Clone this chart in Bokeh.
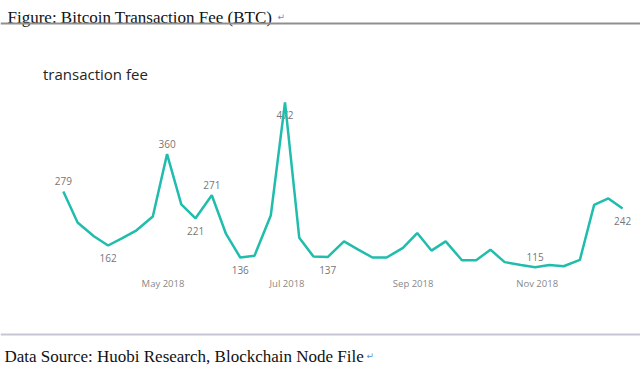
import pandas as pd
from bokeh.plotting import figure
from bokeh.models import (ColumnDataSource, Range1d, FixedTicker, DatetimeTickFormatter,
                          LabelSet, Label, Span)
from bokeh.core.properties import value
from bokeh.embed import file_html
from bokeh.resources import INLINE

# ---- data ----
dates = ["2018-03-13", "2018-03-20", "2018-03-28", "2018-04-04", "2018-04-11", "2018-04-18",
         "2018-04-26", "2018-05-03", "2018-05-10", "2018-05-17", "2018-05-25", "2018-06-01",
         "2018-06-08", "2018-06-15", "2018-06-23", "2018-06-30", "2018-07-07", "2018-07-14",
         "2018-07-21", "2018-07-29", "2018-08-05", "2018-08-12", "2018-08-19", "2018-08-27",
         "2018-09-03", "2018-09-10", "2018-09-17", "2018-09-25", "2018-10-02", "2018-10-09",
         "2018-10-16", "2018-10-24", "2018-10-31", "2018-11-07", "2018-11-14", "2018-11-22",
         "2018-11-29", "2018-12-06", "2018-12-13"]
fees = [279, 212, 182, 162, 178, 195, 225, 360, 251, 221, 271, 187, 136, 140, 227, 472,
        179, 138, 137, 171, 153, 136, 136, 157, 189, 151, 171, 130, 130, 153, 126, 120,
        115, 120, 117, 131, 250, 264, 242]
labeled_points = [0, 3, 7, 9, 10, 12, 15, 18, 32, 38]
label_sides = ["above", "below", "above", "below", "above", "below", "below", "below",
               "above", "below"]
tick_months = ["2018-05-01", "2018-07-01", "2018-09-01", "2018-11-01"]

chart_title = "Figure: Bitcoin Transaction Fee (BTC)"
series_title = "transaction fee"
source_note = "Data Source: Huobi Research, Blockchain Node File"

# ---- layout ----
W, H = 640, 365
x_dates = pd.to_datetime(dates)
src = ColumnDataSource(dict(date=x_dates, fee=fees))

lab_src = ColumnDataSource(dict(
    date=[x_dates[i] for i in labeled_points],
    fee=[fees[i] for i in labeled_points],
    txt=[str(fees[i]) for i in labeled_points],
    off=[10.5 if s == "above" else -12.5 for s in label_sides],
))

anchor = pd.Timestamp("2018-05-01")
x_range = Range1d(anchor - pd.Timedelta(days=79.9), anchor + pd.Timedelta(days=234.8))
y_range = Range1d(-98.0, 692.9)

p = figure(width=W, height=H, x_axis_type="datetime", y_axis_location=None,
           x_range=x_range, y_range=y_range, output_backend="svg",
           toolbar_location=None, min_border=0, min_border_left=0, min_border_right=0,
           min_border_top=0, min_border_bottom=0)
p.outline_line_color = None
p.xgrid.grid_line_color = None
p.ygrid.grid_line_color = None
p.background_fill_color = "white"
p.border_fill_color = "white"

p.line("date", "fee", source=src, line_color="#20BDAD", line_width=2.5)

labels = LabelSet(x="date", y="fee", text="txt", y_offset="off", source=lab_src,
                  text_font=value("Open Sans"), text_font_size="10px",
                  text_color="#777777", text_align="center", text_baseline="middle",
                  level="underlay")
p.add_layout(labels)

ax = p.xaxis[0]
ax.fixed_location = 98
ax.ticker = FixedTicker(ticks=list(pd.to_datetime(tick_months).asi8 // 10**6))
ax.formatter = DatetimeTickFormatter(days="%b %Y", months="%b %Y", years="%b %Y")
ax.axis_line_color = None
ax.major_tick_line_color = None
ax.minor_tick_line_color = None
ax.major_tick_out = 0
ax.major_label_standoff = 2
ax.major_label_text_font = "Open Sans"
ax.major_label_text_font_size = "9.5px"
ax.major_label_text_color = "#888888"

# header / footer (screen units measured from the bottom of the canvas)
p.add_layout(Label(x=7, y=H - 16.5, x_units="screen", y_units="screen", text=chart_title,
                   text_font="Liberation Serif", text_font_size="17px", text_color="#111111",
                   text_baseline="alphabetic"))
p.add_layout(Label(x=277, y=H - 16, x_units="screen", y_units="screen", text="\u21b5",
                   text_font="DejaVu Sans", text_font_size="9px", text_color="#5b8fd6",
                   text_baseline="alphabetic"))
p.add_layout(Span(location=H - 23, location_units="screen", dimension="width",
                  line_color="#8f8f8f", line_width=2))
p.add_layout(Label(x=42.5, y=H - 73.5, x_units="screen", y_units="screen", text=series_title,
                   text_font="Open Sans", text_font_size="15px", text_color="#252423",
                   text_baseline="alphabetic"))
p.add_layout(Span(location=H - 334, location_units="screen", dimension="width",
                  line_color="#c6c6d4", line_width=2))
p.add_layout(Label(x=4, y=H - 355.5, x_units="screen", y_units="screen", text=source_note,
                   text_font="Liberation Serif", text_font_size="17px", text_color="#111111",
                   text_baseline="alphabetic"))
p.add_layout(Label(x=366, y=H - 355, x_units="screen", y_units="screen", text="\u21b5",
                   text_font="DejaVu Sans", text_font_size="9px", text_color="#5b8fd6",
                   text_baseline="alphabetic"))

open("out.html", "w").write(file_html(p, INLINE))
